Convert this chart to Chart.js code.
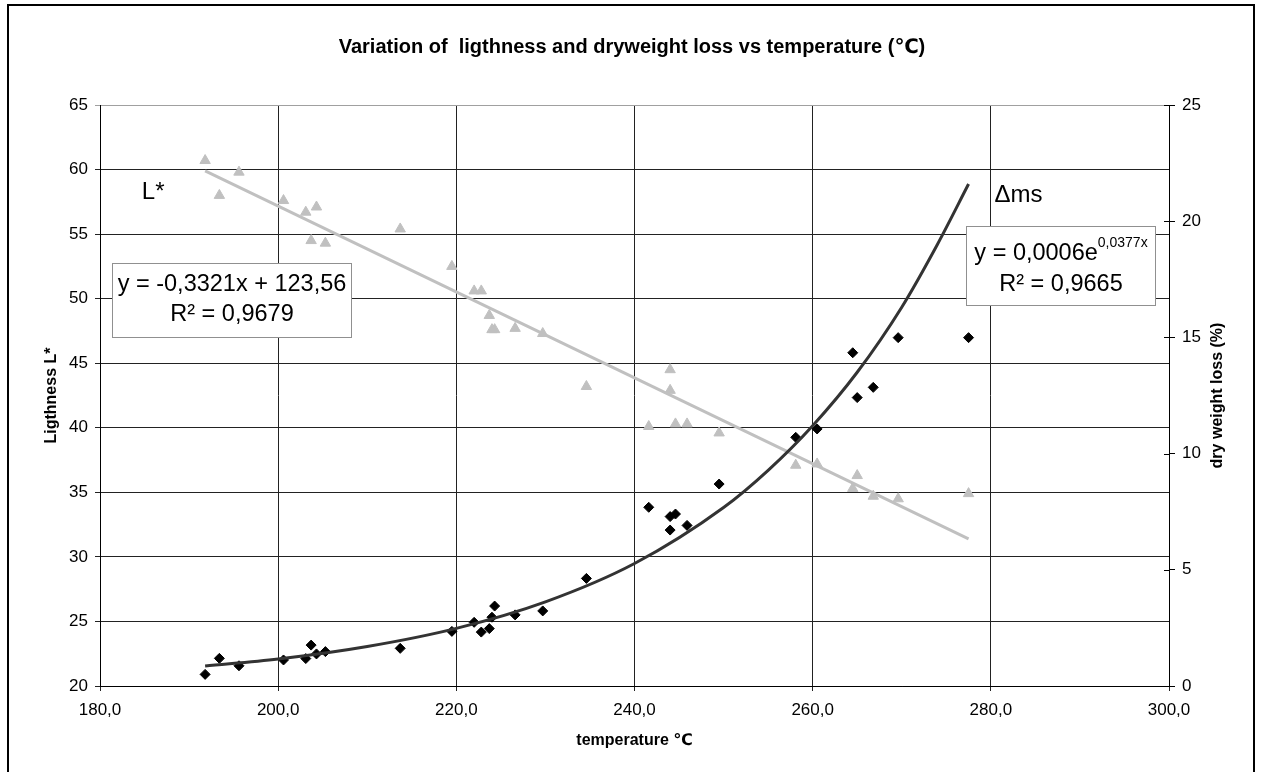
<!DOCTYPE html>
<html><head><meta charset="utf-8">
<script src="https://cdn.jsdelivr.net/npm/chart.js@4"></script>
<style>html,body{margin:0;padding:0;background:#fff}#wrap{position:relative;width:1264px;height:772px}</style>
</head><body><div id="wrap"><canvas id="c" width="1264" height="772"></canvas></div>
<script>
// ---- data ----
const temperature = [191.8,193.4,195.6,200.6,203.1,203.7,204.3,205.3,213.7,219.5,222.0,222.8,223.7,224.0,224.3,226.6,229.7,234.6,241.6,244.0,244.0,244.6,245.9,249.5,258.1,260.5,264.5,265.0,266.8,269.6,277.5];
const lightness   = [60.7,58.0,59.8,57.6,56.7,54.5,57.1,54.3,55.4,52.5,50.6,50.6,48.7,47.6,47.6,47.7,47.3,43.2,40.1,44.5,42.9,40.3,40.3,39.6,37.1,37.2,35.3,36.3,34.7,34.5,34.9];
const dryWeightLoss = [0.50,1.19,0.87,1.12,1.18,1.76,1.38,1.48,1.62,2.35,2.74,2.32,2.47,2.96,3.44,3.06,3.23,4.63,7.69,7.29,6.71,7.40,6.91,8.69,10.70,11.06,14.34,12.41,12.85,14.99,14.99];
const linTrendT = [191.8, 277.5];
const linTrendL = [59.9, 31.4];
const expTrendT = [191.8,200,210,220,230,240,250,255,260,265,270,274,277.5];
const expTrendD = [0.86,1.16,1.70,2.48,3.62,5.27,7.68,9.28,11.2,13.5,16.3,19.0,21.6];
const xTicks = [180,200,220,240,260,280,300];
const xTickLabels = ['180,0','200,0','220,0','240,0','260,0','280,0','300,0'];
const leftTicks = [20,25,30,35,40,45,50,55,60,65];
const rightTicks = [0,5,10,15,20,25];
const titleText = 'Variation of  ligthness and dryweight loss vs temperature (℃)';
const xTitle = 'temperature ℃';
const yTitle = 'Ligthness L*';
const y2Title = 'dry weight loss (%)';
const linEq = 'y = -0,3321x + 123,56';
const linR2 = 'R² = 0,9679';
const expEqBase = 'y = 0,0006e';
const expEqExp = '0,0377x';
const expR2 = 'R² = 0,9665';
const lLabel = 'L*';
const dLabel = 'Δms';

const FONT = "'Liberation Sans', Arial, 'DejaVu Sans', sans-serif";
Chart.defaults.font.family = FONT;
Chart.defaults.color = '#000';

const pts = (xs, ys) => xs.map((v, i) => ({x: v, y: ys[i]}));

const annot = {
  id: 'annot',
  afterDraw(chart) {
    const {ctx, scales: {x, y, y2}, chartArea: ca} = chart;
    ctx.save();
    // right axis cross ticks (inner half)
    ctx.strokeStyle = '#000'; ctx.lineWidth = 1;
    rightTicks.forEach(v => {
      const py = Math.round(y2.getPixelForValue(v)) + 0.5;
      ctx.beginPath(); ctx.moveTo(ca.right - 5, py); ctx.lineTo(ca.right, py); ctx.stroke();
    });
    // right axis title (reads bottom to top)
    ctx.save();
    ctx.translate(1218, (ca.top + ca.bottom) / 2);
    ctx.rotate(-Math.PI / 2);
    ctx.font = 'bold 16px ' + FONT;
    ctx.textAlign = 'center'; ctx.textBaseline = 'middle'; ctx.fillStyle = '#000';
    ctx.fillText(y2Title, 0, 0);
    ctx.restore();

    // trendline equation boxes
    const box = (x0, y0, x1, y1) => {
      const l = Math.round(x.getPixelForValue(x0)) + 0.5, r = Math.round(x.getPixelForValue(x1)) + 0.5;
      const t = Math.round(y.getPixelForValue(y0)) + 0.5, b = Math.round(y.getPixelForValue(y1)) + 0.5;
      ctx.fillStyle = '#fff'; ctx.fillRect(l, t, r - l, b - t);
      ctx.strokeStyle = '#909090'; ctx.lineWidth = 1; ctx.strokeRect(l, t, r - l, b - t);
      return {l, t, r, b};
    };
    const b1 = box(181.3, 52.8, 208.2, 47.05);
    ctx.font = '23.5px ' + FONT; ctx.textAlign = 'center'; ctx.textBaseline = 'middle'; ctx.fillStyle = '#000';
    const c1 = (b1.l + b1.r) / 2;
    ctx.fillText(linEq, c1, b1.t + 21);
    ctx.fillText(linR2, c1, b1.t + 51);

    const b2 = box(277.2, 55.6, 298.4, 49.5);
    ctx.fillStyle = '#000';
    ctx.font = '23.5px ' + FONT; ctx.textAlign = 'left';
    const wBase = ctx.measureText(expEqBase).width;
    ctx.font = '14px ' + FONT;
    const wExp = ctx.measureText(expEqExp).width;
    const sx = (b2.l + b2.r) / 2 - (wBase + wExp) / 2;
    ctx.font = '23.5px ' + FONT;
    ctx.fillText(expEqBase, sx, b2.t + 27);
    ctx.font = '14px ' + FONT;
    ctx.fillText(expEqExp, sx + wBase, b2.t + 17);
    ctx.font = '23.5px ' + FONT; ctx.textAlign = 'center';
    ctx.fillText(expR2, (b2.l + b2.r) / 2, b2.t + 58);

    // series labels
    ctx.font = '24px ' + FONT; ctx.textAlign = 'left'; ctx.textBaseline = 'alphabetic';
    ctx.fillText(lLabel, x.getPixelForValue(184.7), y.getPixelForValue(57.7));
    ctx.fillText(dLabel, x.getPixelForValue(280.4), y.getPixelForValue(57.5));

    // outer frame
    ctx.strokeStyle = '#000'; ctx.lineWidth = 2;
    ctx.beginPath();
    ctx.moveTo(8, 772); ctx.lineTo(8, 5); ctx.lineTo(1254, 5); ctx.lineTo(1254, 772);
    ctx.stroke();
    ctx.restore();
  }
};

new Chart(document.getElementById('c'), {
  type: 'scatter',
  data: {
    datasets: [
      {label: 'Δms trend', data: pts(expTrendT, expTrendD), yAxisID: 'y2', showLine: true, pointRadius: 0,
       borderColor: '#333', borderWidth: 3, cubicInterpolationMode: 'monotone', order: 0},
      {label: 'L* trend', data: pts(linTrendT, linTrendL), yAxisID: 'y', showLine: true, pointRadius: 0,
       borderColor: '#c0c0c0', borderWidth: 3, order: 1},
      {label: 'Δms', data: pts(temperature, dryWeightLoss), yAxisID: 'y2', pointStyle: 'rectRot', pointRadius: 5,
       backgroundColor: '#000', borderColor: '#000', borderWidth: 1, order: 2},
      {label: 'L*', data: pts(temperature, lightness), yAxisID: 'y', pointStyle: 'triangle', pointRadius: 6,
       backgroundColor: '#c0c0c0', borderColor: '#c0c0c0', borderWidth: 1, order: 3}
    ]
  },
  options: {
    responsive: false, animation: false,
    layout: {padding: 0},
    plugins: {
      legend: {display: false}, tooltip: {enabled: false},
      title: {display: true, text: titleText, color: '#000', font: {size: 20, weight: 'bold'}, padding: {top: 35, bottom: 46}}
    },
    scales: {
      x: {
        type: 'linear', position: 'bottom', min: 180, max: 300,
        afterBuildTicks: s => { s.ticks = xTicks.map(v => ({value: v})); },
        ticks: {callback: v => xTickLabels[xTicks.indexOf(v)], font: {size: 17}, padding: 9, maxRotation: 0, autoSkip: false, color: '#000'},
        grid: {color: '#222', lineWidth: 1, tickLength: 5},
        border: {color: '#000', width: 1},
        title: {display: true, text: xTitle, color: '#000', font: {size: 16, weight: 'bold'}, padding: {top: 0, bottom: 22}},
        afterFit: s => { s.height = 86; }
      },
      y: {
        type: 'linear', position: 'left', min: 20, max: 65,
        afterBuildTicks: s => { s.ticks = leftTicks.map(v => ({value: v})); },
        ticks: {font: {size: 17}, padding: 7, color: '#000'},
        grid: {color: c => (c.tick && c.tick.value === 65) ? '#a0a0a0' : '#222', lineWidth: 1, tickLength: 5},
        border: {color: '#000', width: 1},
        title: {display: true, text: yTitle, color: '#000', font: {size: 16, weight: 'bold'}, padding: {top: 42, bottom: 0}},
        afterFit: s => { s.width = 100; }
      },
      y2: {
        type: 'linear', position: 'right', min: 0, max: 25,
        afterBuildTicks: s => { s.ticks = rightTicks.map(v => ({value: v})); },
        ticks: {font: {size: 17}, padding: 7, color: '#000'},
        grid: {drawOnChartArea: false, color: '#000', tickLength: 6},
        border: {color: '#000', width: 1},
        title: {display: false},
        afterFit: s => { s.width = 95; }
      }
    }
  },
  plugins: [annot]
});
</script></body></html>
